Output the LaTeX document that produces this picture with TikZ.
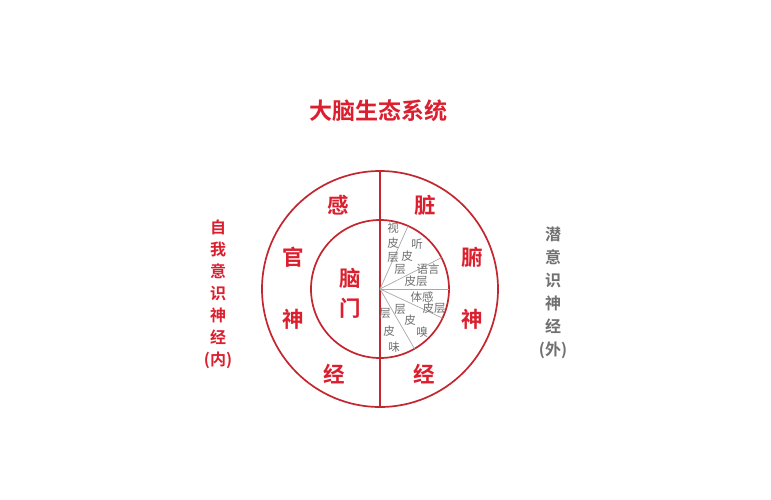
\documentclass[tikz,border=0pt]{standalone}
\usepackage{fontspec}
\usetikzlibrary{calc}
\newfontfamily\cjk{Noto Sans CJK SC}
\newfontfamily\cjkb{Noto Sans CJK SC Bold}
\definecolor{ringred}{HTML}{C4262F}
\definecolor{txtred}{HTML}{DC1F2E}
\definecolor{txtgray}{HTML}{707070}
\definecolor{spokegray}{HTML}{A8A8A8}
\tikzset{
  ring/.style={draw=ringred, line width=1.7pt},
  spoke/.style={draw=spokegray, line width=0.7pt},
  bigchar/.style={text=txtred, font=\cjkb\fontsize{21.5}{21.5}\selectfont, inner sep=0pt},
  small/.style={text=txtgray, font=\cjk\fontsize{11.5}{11.5}\selectfont, inner sep=0pt},
  sidered/.style={text=txtred, font=\cjkb\fontsize{16}{16}\selectfont, inner sep=0pt},
  sidegray/.style={text=txtgray, font=\cjkb\fontsize{16}{16}\selectfont, inner sep=0pt},
}
\begin{document}
\begin{tikzpicture}[x=1pt,y=-1pt]
\useasboundingbox[fill=white] (0,0) rectangle (771,500);
% title
\node[text=txtred, font=\cjkb\fontsize{23}{23}\selectfont, inner sep=0pt] (title) at (378,111) {大脑生态系统};
% circles
\coordinate (c) at (380,289);
\draw[ring] (c) circle[radius=118];
\draw[ring] (c) circle[radius=69];
\coordinate (vtop) at (380,171);
\coordinate (vbot) at (380,407);
\draw[ring] (vtop) -- (vbot);
% spokes
\coordinate (s1) at ($(c)+(-66:69)$);
\coordinate (s2) at ($(c)+(-27:69)$);
\coordinate (s3) at ($(c)+(0:69)$);
\coordinate (s4) at ($(c)+(25:69)$);
\coordinate (s5) at ($(c)+(60:69)$);
\foreach \s in {s1,s2,s3,s4,s5} \draw[spoke] (c) -- (\s);
% outer ring characters
\node[bigchar] (g1) at (338,205) {感};
\node[bigchar] (g2) at (293,257) {官};
\node[bigchar] (g3) at (293,319) {神};
\node[bigchar] (g4) at (334,374) {经};
\node[bigchar] (z1) at (425,205) {脏};
\node[bigchar] (z2) at (472,257) {腑};
\node[bigchar] (z3) at (472,319) {神};
\node[bigchar] (z4) at (424,374) {经};
\node[bigchar] (n1) at (350,278) {脑};
\node[bigchar] (n2) at (350,308) {门};
% small labels
\node[small] (a1) at (393,228) {视};
\node[small] (a2) at (393,243) {皮};
\node[small] (a3) at (393,257) {层};
\node[small] (b1) at (417,244) {听};
\node[small] (b2) at (407,256) {皮};
\node[small] (b3) at (400,269) {层};
\node[small] (d1) at (428,269) {语言};
\node[small] (d2) at (416,281) {皮层};
\node[small] (e1) at (422,297) {体感};
\node[small] (e2) at (434,308) {皮层};
\node[small] (f1) at (400,309) {层};
\node[small] (f2) at (410,320) {皮};
\node[small] (f3) at (422,332) {嗅};
\node[small] (h1) at (385,313) {层};
\node[small] (h2) at (389,331) {皮};
\node[small] (h3) at (394,347) {味};
% side columns
\node[sidered, align=center] (left) at (218,294) {自\\[6pt]我\\[6pt]意\\[6pt]识\\[6pt]神\\[6pt]经\\[6pt](内)};
\node[sidegray, align=center] (right) at (553,293) {潜\\[7pt]意\\[7pt]识\\[7pt]神\\[7pt]经\\[7pt](外)};
\end{tikzpicture}
\end{document}
